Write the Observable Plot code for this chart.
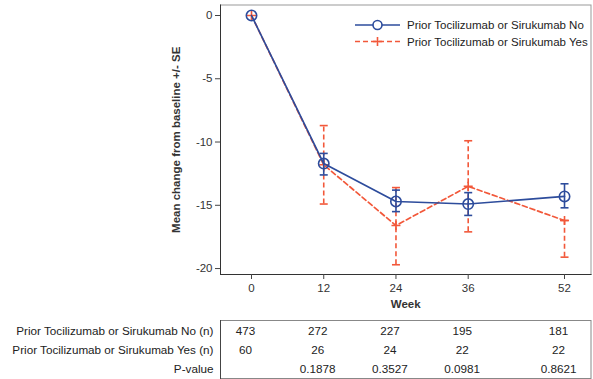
<!DOCTYPE html>
<html>
<head>
<meta charset="utf-8">
<script src="https://cdn.jsdelivr.net/npm/d3@7"></script>
<script src="https://cdn.jsdelivr.net/npm/@observablehq/plot@0.6"></script>
<style>
  html, body { margin: 0; padding: 0; background: #fff; }
  #chart { position: relative; width: 593px; height: 379px; font-family: "Liberation Sans", Arial, sans-serif; }
  #chart svg { display: block; }
  #chart [aria-label="x-axis label"] text, #chart [aria-label="y-axis label"] text,
  #chart [aria-label="x-axis label"], #chart [aria-label="y-axis label"] { font-weight: bold; }
  #legend { position: absolute; left: 352px; top: 15px; }
</style>
</head>
<body>
<div id="chart"><div id="legend"></div></div>
<script>
// Visit weeks and the two patient groups
const weeks = [0, 12, 24, 36, 52];
const seriesLabels = ["Prior Tocilizumab or Sirukumab No", "Prior Tocilizumab or Sirukumab Yes"];

// Mean change from baseline and the +/- SE limits
const noMean  = [0, -11.7, -14.7, -14.9, -14.3];
const noLower = [0, -12.6, -15.5, -15.8, -15.2];
const noUpper = [0, -10.9, -13.8, -14.0, -13.3];

const yesMean  = [0, -11.8, -16.6, -13.5, -16.2];
const yesLower = [0, -14.9, -19.7, -17.1, -19.1];
const yesUpper = [0, -8.7, -13.6, -9.9, -16.2];

// Numbers of patients and p-values by week
const rowLabels = ["Prior Tocilizumab or Sirukumab No (n)", "Prior Tocilizumab or Sirukumab Yes (n)", "P-value"];
const nNo  = [473, 272, 227, 195, 181];
const nYes = [60, 26, 24, 22, 22];
const pValues = ["", "0.1878", "0.3527", "0.0981", "0.8621"];

const yTicks = [-20, -15, -10, -5, 0];

const BLUE = "#2d4c9c";
const RED = "#f2583a";

const toRows = (mean, lo, hi) => weeks.map((w, i) => ({week: w, mean: mean[i], lo: lo[i], hi: hi[i]}));
const noRows = toRows(noMean, noLower, noUpper);
const yesRows = toRows(yesMean, yesLower, yesUpper);
const hasBar = d => d.lo !== d.hi || d.lo !== d.mean;

// Custom symbols: a horizontal cap line and a thin plus
const capSymbol = {draw(ctx, size) { const r = Math.sqrt(size / Math.PI); ctx.moveTo(-r, 0); ctx.lineTo(r, 0); }};
const plusSymbol = {draw(ctx, size) { const r = Math.sqrt(size / Math.PI); ctx.moveTo(-r, 0); ctx.lineTo(r, 0); ctx.moveTo(0, -r); ctx.lineTo(0, r); }};

const xDomain = [-5.15, 56.4];

function seriesMarks(rows, color, dash, symbol, r) {
  const bars = rows.filter(hasBar);
  return [
    Plot.ruleX(bars, {x: "week", y1: "lo", y2: "hi", stroke: color, strokeWidth: 1.6, strokeDasharray: dash}),
    Plot.dot(bars, {x: "week", y: "lo", symbol: capSymbol, r: 4, stroke: color, strokeWidth: 1.6, fill: "none"}),
    Plot.dot(bars, {x: "week", y: "hi", symbol: capSymbol, r: 4, stroke: color, strokeWidth: 1.6, fill: "none"}),
    Plot.line(rows, {x: "week", y: "mean", stroke: color, strokeWidth: 1.7, strokeDasharray: dash}),
    Plot.dot(rows, {x: "week", y: "mean", symbol, r, stroke: color, strokeWidth: 1.6, fill: "none"})
  ];
}

const main = Plot.plot({
  width: 593,
  height: 312,
  marginLeft: 220,
  marginRight: 2.5,
  marginTop: 4.5,
  marginBottom: 38,
  style: {fontFamily: "'Liberation Sans', Arial, sans-serif", fontSize: "11.5px", color: "#333", background: "#fff"},
  x: {domain: xDomain},
  y: {domain: [-20.47, 0.83]},
  marks: [
    Plot.frame({stroke: "#999"}),
    Plot.frame({anchor: "left", stroke: "#333"}),
    Plot.frame({anchor: "bottom", stroke: "#333"}),
    Plot.axisX({ticks: weeks, tickSize: 5, tickPadding: 4, label: "Week", labelAnchor: "center", labelOffset: 33, labelArrow: "none", stroke: "#444"}),
    Plot.axisY({ticks: yTicks, tickSize: 5, tickPadding: 3, tickFormat: d => String(d).replace("−", "-"), label: "Mean change from baseline +/- SE", labelAnchor: "center", labelOffset: 49, labelArrow: "none", stroke: "#444"}),
    ...seriesMarks(yesRows, RED, "5,3", plusSymbol, 4.5),
    ...seriesMarks(noRows, BLUE, null, "circle", 5.2)
  ]
});

const cells = [];
weeks.forEach((w, i) => {
  cells.push({week: w, row: rowLabels[0], value: String(nNo[i])});
  cells.push({week: w, row: rowLabels[1], value: String(nYes[i])});
  cells.push({week: w, row: rowLabels[2], value: pValues[i]});
});

const table = Plot.plot({
  width: 593,
  height: 67,
  marginLeft: 220,
  marginRight: 2.5,
  marginTop: 8,
  marginBottom: 1,
  style: {fontFamily: "'Liberation Sans', Arial, sans-serif", fontSize: "11.7px", color: "#222", background: "#fff"},
  x: {domain: xDomain, axis: null},
  y: {type: "point", domain: rowLabels, range: [18, 57], padding: 0, axis: null},
  marks: [
    Plot.frame({stroke: "#888"}),
    Plot.frame({anchor: "left", stroke: "#444"}),
    Plot.axisY({tickSize: 0, tickPadding: 7, label: null}),
    Plot.text(cells, {x: "week", y: "row", text: "value", dx: -6, fontSize: 11.7, fill: "#222"})
  ]
});

const chart = document.getElementById("chart");
chart.appendChild(main);
chart.appendChild(table);

// Legend drawn with d3: line sample, marker and label for each series
const legend = d3.select("#legend").append("svg").attr("width", 240).attr("height", 40)
  .style("font-family", "'Liberation Sans', Arial, sans-serif").style("font-size", "11.5px");
const items = [
  {label: seriesLabels[0], color: BLUE, dash: null, symbol: "circle"},
  {label: seriesLabels[1], color: RED, dash: "5,3", symbol: "plus"}
];
items.forEach((it, i) => {
  const g = legend.append("g").attr("transform", `translate(0,${10 + i * 16.5})`);
  g.append("line").attr("x1", 3).attr("x2", 48).attr("y1", 0).attr("y2", 0)
    .attr("stroke", it.color).attr("stroke-width", 1.7).attr("stroke-dasharray", it.dash);
  if (it.symbol === "circle") {
    g.append("circle").attr("cx", 25.5).attr("cy", 0).attr("r", 4.5).attr("fill", "#fff")
      .attr("stroke", it.color).attr("stroke-width", 1.6);
  } else {
    g.append("path").attr("d", "M21,0H30M25.5,-4.5V4.5").attr("stroke", it.color).attr("stroke-width", 1.6);
  }
  g.append("text").attr("x", 55).attr("y", 0).attr("dy", "0.35em").attr("fill", "#222").text(it.label);
});
</script>
</body>
</html>
